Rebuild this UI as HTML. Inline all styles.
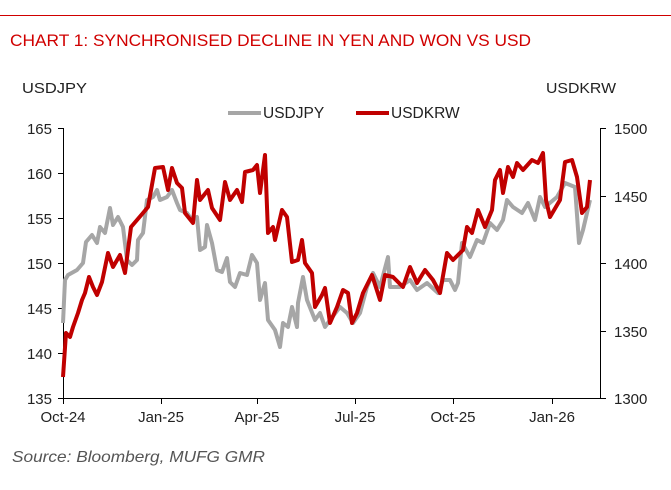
<!DOCTYPE html>
<html><head><meta charset="utf-8"><style>
body{margin:0;background:#fff;}
svg{display:block;font-family:"Liberation Sans",Arial,sans-serif;}
</style></head><body>
<svg width="671" height="490" viewBox="0 0 671 490">
<line x1="0" y1="15.5" x2="671" y2="15.5" stroke="#d00000" stroke-width="1"/>
<text x="10" y="46" font-size="17" fill="#d00000" textLength="521" lengthAdjust="spacingAndGlyphs">CHART 1: SYNCHRONISED DECLINE IN YEN AND WON VS USD</text>
<text x="22" y="93" font-size="15" fill="#222" textLength="65" lengthAdjust="spacingAndGlyphs">USDJPY</text>
<text x="546" y="93" font-size="15" fill="#222" textLength="70" lengthAdjust="spacingAndGlyphs">USDKRW</text>
<line x1="228" y1="113" x2="261" y2="113" stroke="#a6a6a6" stroke-width="4"/>
<text x="263" y="118" font-size="15.5" fill="#222">USDJPY</text>
<line x1="356" y1="113" x2="389" y2="113" stroke="#c00000" stroke-width="4"/>
<text x="391" y="118" font-size="15.5" fill="#222">USDKRW</text>
<g stroke="#000" stroke-width="1" fill="none">
<path d="M63.5 128V398.5H600.5V128"/>
<path d="M58 128.5H63M58 173.5H63M58 218.5H63M58 263.5H63M58 308.5H63M58 353.5H63M58 398.5H63"/>
<path d="M600 128.5H606M600 196.5H606M600 263.5H606M600 331.5H606M600 398.5H606"/>
<path d="M63.5 398V404M161.5 398V404M257.5 398V404M355.5 398V404M453.5 398V404M552.5 398V404"/>
</g>
<g font-size="15" fill="#222" text-anchor="end">
<text x="52" y="134">165</text><text x="52" y="179">160</text><text x="52" y="224">155</text><text x="52" y="269">150</text><text x="52" y="314">145</text><text x="52" y="359">140</text><text x="52" y="404">135</text>
</g>
<g font-size="15" fill="#222">
<text x="614" y="134">1500</text><text x="614" y="202">1450</text><text x="614" y="269">1400</text><text x="614" y="337">1350</text><text x="614" y="404">1300</text>
</g>
<g font-size="15" fill="#222" text-anchor="middle">
<text x="63" y="422">Oct-24</text><text x="161" y="422">Jan-25</text><text x="257" y="422">Apr-25</text><text x="355" y="422">Jul-25</text><text x="453" y="422">Oct-25</text><text x="552" y="422">Jan-26</text>
</g>
<polyline fill="none" stroke="#a6a6a6" stroke-width="4" stroke-linejoin="round" points="63,323 65,280 68,275 77,270 83,263 86,242 92,235 97,243 100,227 105,233 110,208 113,225 118,217 123,227 127,260 132,265 137,260 138,240 143,233 147,200 153,197 157,190 160,200 167,197 172,190 177,203 180,210 187,213 192,220 197,217 200,250 205,247 207,225 212,243 217,270 222,272 227,258 230,282 235,287 240,273 247,275 252,255 257,263 260,300 265,283 268,320 275,330 280,347 283,323 288,327 292,307 297,327 298,303 303,277 307,300 315,320 320,313 325,327 330,320 340,307 347,313 353,323 360,313 367,287 373,273 380,287 388,257 390,287 400,287 410,280 417,290 427,283 438,293 443,280 450,280 455,290 458,283 462,243 470,257 477,240 483,243 490,223 497,230 503,220 507,200 513,207 522,213 528,203 535,220 540,197 545,207 557,197 565,183 575,187 579,243 583,230 590,200"/>
<polyline fill="none" stroke="#c00000" stroke-width="4" stroke-linejoin="round" points="63,377 66,333 70,337 73,327 78,313 82,300 85,293 89,277 93,287 97,295 102,282 108,253 113,267 120,255 125,273 131,227 137,220 143,213 148,207 155,168 163,167 168,190 172,168 177,183 182,188 185,213 193,223 197,180 200,200 208,190 212,208 220,220 225,182 230,200 237,190 242,202 245,172 253,170 257,165 260,193 265,155 268,233 273,227 275,240 282,210 287,217 292,262 298,260 302,240 305,263 312,273 315,307 322,295 325,288 330,323 337,307 343,290 348,293 352,323 357,313 363,293 372,275 380,300 385,275 393,277 403,287 410,267 417,283 425,270 433,280 440,293 447,253 453,260 463,250 467,227 472,233 478,210 485,227 492,210 495,180 500,170 503,193 508,167 513,177 517,163 523,170 532,160 538,163 543,153 546,200 550,217 560,200 565,162 572,160 577,177 582,213 587,207 590,180"/>
<text x="12" y="462" font-size="16" font-style="italic" fill="#555" textLength="253" lengthAdjust="spacingAndGlyphs">Source: Bloomberg, MUFG GMR</text>
</svg>
</body></html>
